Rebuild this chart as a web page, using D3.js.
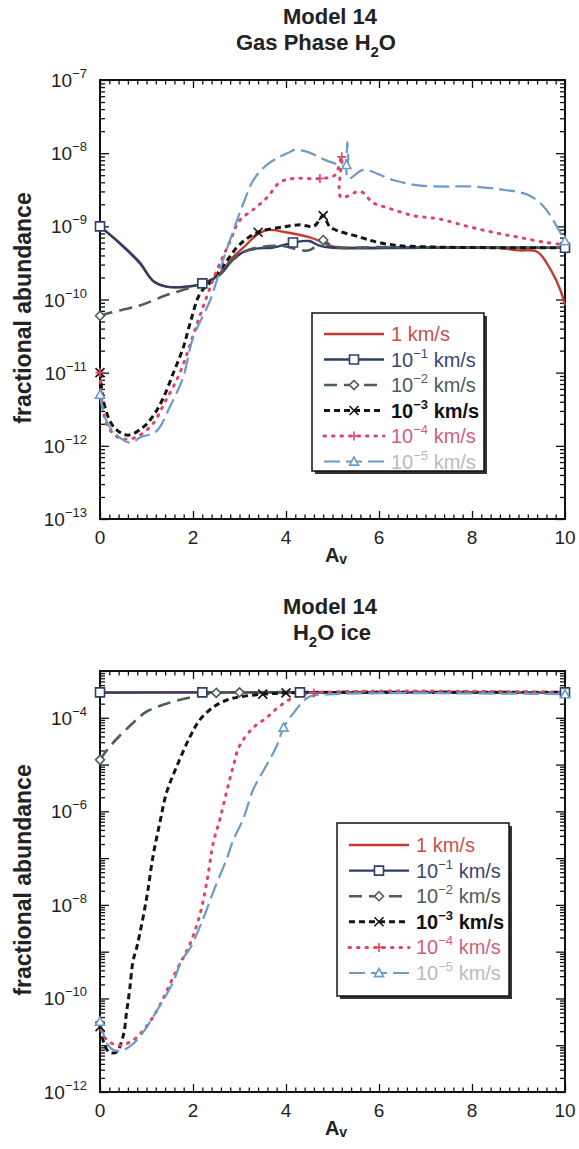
<!DOCTYPE html>
<html><head><meta charset="utf-8">
<script src="https://cdn.jsdelivr.net/npm/d3@7/dist/d3.min.js"></script>
<style>body{margin:0;background:#fff}svg{display:block}</style>
</head><body>
<svg id="c" width="579" height="1149"></svg>
<script>
// ---------- data ----------
const seriesLabels = ["1", "-1", "-2", "-3", "-4", "-5"]; // velocity exponents (km/s)
const xTicks = [0, 2, 4, 6, 8, 10];
const gasYTicks = [-7, -8, -9, -10, -11, -12, -13];
const iceYTicks = [-4, -6, -8, -10, -12];

// Gas phase H2O  [Av, abundance]
const gas_v1 = [[0,1.0e-9],[0.43,5.9e-10],[0.86,3.2e-10],[1.14,1.8e-10],[1.43,1.5e-10],[1.87,1.5e-10],[2.3,1.66e-10],[2.58,2.3e-10],[2.86,3.8e-10],[3.08,5.1e-10],[3.37,7.6e-10],[3.59,8.9e-10],[4.0,8.3e-10],[4.5,7.1e-10],[4.8,6.0e-10],[5.0,5.3e-10],[6,5.1e-10],[7,5.1e-10],[8.5,5.1e-10],[9.0,4.7e-10],[9.4,4.5e-10],[9.7,2.5e-10],[9.9,1.35e-10],[10,8.3e-11]];
const gas_v01 = [[0,1.0e-9],[0.43,5.8e-10],[0.86,3.1e-10],[1.14,1.8e-10],[1.43,1.5e-10],[1.87,1.5e-10],[2.2,1.66e-10],[2.58,2.2e-10],[2.86,3.5e-10],[3.1,4.5e-10],[3.4,5.0e-10],[3.7,5.1e-10],[4.15,6.0e-10],[4.5,6.3e-10],[4.7,5.5e-10],[5.0,5.1e-10],[7,5.1e-10],[10,5.1e-10]];
const gas_v001 = [[0,6.0e-11],[0.22,6.6e-11],[0.86,8.3e-11],[1.43,1.15e-10],[1.87,1.4e-10],[2.2,1.66e-10],[2.58,2.2e-10],[2.86,3.5e-10],[3.2,4.8e-10],[3.87,5.4e-10],[4.5,4.7e-10],[4.8,6.5e-10],[5.0,5.3e-10],[6,5.2e-10],[10,5.1e-10]];
const gas_v0001 = [[0,1.0e-11],[0.1,3.5e-12],[0.3,1.8e-12],[0.6,1.4e-12],[0.93,1.8e-12],[1.15,2.6e-12],[1.36,4.5e-12],[1.58,1.0e-11],[1.79,2.2e-11],[1.94,4.8e-11],[2.15,1.2e-10],[2.4,1.8e-10],[2.7,3.2e-10],[3.0,5.6e-10],[3.4,8.3e-10],[3.94,9.8e-10],[4.3,1.05e-9],[4.6,1.0e-9],[4.8,1.4e-9],[4.95,9.8e-10],[5.6,7.1e-10],[6.0,6.0e-10],[6.5,5.4e-10],[10,5.1e-10]];
const gas_v00001 = [[0,1.0e-11],[0.14,2.0e-12],[0.4,1.3e-12],[0.7,1.26e-12],[1.11,1.9e-12],[1.4,4.0e-12],[1.72,1.0e-11],[2.1,4.9e-11],[2.5,2.4e-10],[2.8,6.3e-10],[3.0,1.2e-9],[3.3,1.7e-9],[3.6,2.5e-9],[3.87,4.0e-9],[4.16,4.5e-9],[4.73,4.5e-9],[5.05,5.0e-9],[5.2,8.9e-9],[5.18,2.5e-9],[5.6,3.0e-9],[5.87,2.1e-9],[6.17,1.8e-9],[6.74,1.4e-9],[7.3,1.26e-9],[7.9,1.0e-9],[8.45,8.3e-10],[9.0,7.1e-10],[9.6,6.0e-10],[10,5.6e-10]];
const gas_v000001 = [[0,5.0e-12],[0.1,2.5e-12],[0.29,1.55e-12],[0.65,1.1e-12],[0.86,1.3e-12],[1.22,1.6e-12],[1.5,3.4e-12],[1.79,8.7e-12],[2.0,3.0e-11],[2.37,9.8e-11],[2.65,3.5e-10],[2.9,1.0e-9],[3.1,2.2e-9],[3.3,4.3e-9],[3.55,6.6e-9],[3.8,8.5e-9],[4.1,1.05e-8],[4.16,1.1e-8],[4.44,1.05e-8],[4.95,7.6e-9],[5.3,6.9e-9],[5.32,1.4e-8],[5.34,4.5e-9],[5.66,5.9e-9],[6.3,4.3e-9],[6.88,3.6e-9],[7.46,3.5e-9],[8.0,3.5e-9],[8.6,3.2e-9],[9.2,2.7e-9],[9.53,1.9e-9],[9.75,1.2e-9],[10,6.3e-10]];

// H2O ice  [Av, abundance]
const ice_v1 = [[0,3.4e-4],[2,3.5e-4],[5,3.5e-4],[10,3.5e-4]];
const ice_v01 = [[0,3.5e-4],[2.2,3.5e-4],[4.3,3.5e-4],[10,3.5e-4]];
const ice_v001 = [[0,1.26e-5],[0.22,2.5e-5],[0.72,7.9e-5],[1.0,1.35e-4],[1.43,2.0e-4],[2.0,2.8e-4],[2.5,3.4e-4],[3.0,3.5e-4],[10,3.5e-4]];
const ice_v0001 = [[0,2.5e-11],[0.1,1.0e-11],[0.2,7.1e-12],[0.35,7.1e-12],[0.5,1.6e-11],[0.57,5.0e-11],[0.64,1.6e-10],[0.71,6.3e-10],[0.8,1.35e-9],[1.0,1.35e-8],[1.14,1.1e-7],[1.29,5.9e-7],[1.43,2.5e-6],[1.65,9.1e-6],[1.94,4.0e-5],[2.15,9.1e-5],[2.44,1.7e-4],[2.73,2.4e-4],[3.0,2.8e-4],[3.5,3.2e-4],[4.0,3.4e-4],[10,3.5e-4]];
const ice_v00001 = [[0,3.2e-11],[0.07,1.6e-11],[0.36,1.0e-11],[0.7,1.26e-11],[1.14,4.0e-11],[1.64,3.9e-10],[1.94,1.5e-9],[2.15,6.3e-9],[2.3,3.2e-8],[2.44,2.2e-7],[2.58,6.9e-7],[2.73,2.8e-6],[2.87,9.5e-6],[3.0,2.5e-5],[3.3,6.2e-5],[3.58,1.0e-4],[3.87,1.8e-4],[4.2,2.8e-4],[4.6,3.4e-4],[10,3.5e-4]];
const ice_v000001 = [[0,3.2e-11],[0.15,1.1e-11],[0.29,7.9e-12],[0.5,7.9e-12],[0.71,1.07e-11],[0.93,1.9e-11],[1.21,5.2e-11],[1.57,2.2e-10],[1.75,6.3e-10],[1.94,1.2e-9],[2.22,5.1e-9],[2.44,1.95e-8],[2.73,1.0e-7],[2.87,2.5e-7],[3.08,6.9e-7],[3.3,3.0e-6],[3.59,1.0e-5],[3.8,2.5e-5],[3.95,6.2e-5],[4.16,1.26e-4],[4.5,2.8e-4],[5.0,3.2e-4],[10,3.2e-4]];

// marker positions (Av) per series
const gasMarkers = [[], [0,2.2,4.15,10], [0,4.8], [0,3.4,4.8], [0,4.73,5.2], [0,5.3,10]];
const iceMarkers = [[], [0,2.2,4.3,10], [0,2.5,4.8], [0,3.5,4.8], [0,4.6], [0,3.95,10]];

// ---------- styles ----------
const styles = [
  {color:"#c43a31", dash:null, w:2.4, marker:null, text:"#c8504a"},
  {color:"#2f3d6a", dash:null, w:2.4, marker:"square", text:"#3a4870"},
  {color:"#4b5f55", dash:"13,7", w:2.6, marker:"diamond", text:"#4d5c55"},
  {color:"#151515", dash:"6,4", w:3.0, marker:"x", text:"#111"},
  {color:"#e04462", dash:"1.5,7", w:3.0, marker:"plus", text:"#d0607a", cap:"round"},
  {color:"#6a9bc9", dash:"16,6", w:2.2, marker:"triangle", text:"#b4bcc4"}
];

const svg = d3.select("#c");
const FONT = "Liberation Sans, Arial, sans-serif";

function markerPath(type, s) {
  switch (type) {
    case "square": return `M${-s},${-s}H${s}V${s}H${-s}Z`;
    case "diamond": return `M0,${-s}L${s},0L0,${s}L${-s},0Z`;
    case "x": return `M${-s},${-s}L${s},${s}M${-s},${s}L${s},${-s}`;
    case "plus": return `M${-s},0H${s}M0,${-s}V${s}`;
    case "triangle": return `M0,${-s}L${s},${s*0.8}L${-s},${s*0.8}Z`;
  }
  return "";
}

function drawPanel(cfg) {
  const {left, right, top, bottom, yMin, yMax, yTicks, data, markers, title1, title2, legend, yTitleY} = cfg;
  const x = d3.scaleLinear().domain([0,10]).range([left,right]);
  const y = d3.scaleLog().domain([Math.pow(10,yMin), Math.pow(10,yMax)]).range([bottom, top]);
  const g = svg.append("g");

  // titles
  const t = g.append("g").attr("font-family", FONT).attr("font-weight","bold").attr("font-size",22).attr("text-anchor","middle").attr("fill","#222");
  t.append("text").attr("x", title1.x).attr("y", title1.y).text("Model 14");
  const t2 = t.append("text").attr("x", title2.x).attr("y", title2.y);
  title2.parts.forEach(p => {
    const ts = t2.append("tspan").text(p.t);
    if (p.sub) ts.attr("font-size", 15).attr("dy", 7);
    if (p.back) ts.attr("dy", -7);
  });

  // minor/major ticks
  const majorX = d3.range(0, 10.001, 2);
  const minorX = d3.range(0, 10.001, 0.2).filter(v => Math.abs(v/2 - Math.round(v/2)) > 1e-6);
  const majorY = d3.range(yMin, yMax+1).map(e => Math.pow(10,e));
  const minorY = [];
  for (let e = yMin; e < yMax; e++) for (let m = 2; m <= 9; m++) minorY.push(m*Math.pow(10,e));

  const axG = g.append("g").attr("stroke","#111");
  function ax(gen, tr) {
    const a = axG.append("g").attr("transform", tr).call(gen);
    a.selectAll("text").remove();
    a.select(".domain").remove();
    a.selectAll("line").attr("stroke","#111").attr("stroke-width",1.3);
  }
  ax(d3.axisBottom(x).tickValues(majorX).tickSize(-8), `translate(0,${bottom})`);
  ax(d3.axisBottom(x).tickValues(minorX).tickSize(-4.5), `translate(0,${bottom})`);
  ax(d3.axisTop(x).tickValues(majorX).tickSize(-8), `translate(0,${top})`);
  ax(d3.axisTop(x).tickValues(minorX).tickSize(-4.5), `translate(0,${top})`);
  ax(d3.axisLeft(y).tickValues(majorY).tickSize(-9), `translate(${left},0)`);
  ax(d3.axisLeft(y).tickValues(minorY).tickSize(-5), `translate(${left},0)`);
  ax(d3.axisRight(y).tickValues(majorY).tickSize(-9), `translate(${right},0)`);
  ax(d3.axisRight(y).tickValues(minorY).tickSize(-5), `translate(${right},0)`);

  // frame
  g.append("rect").attr("x",left).attr("y",top).attr("width",right-left).attr("height",bottom-top)
    .attr("fill","none").attr("stroke","#111").attr("stroke-width",2);

  // tick labels
  const lab = g.append("g").attr("font-family", FONT).attr("font-size",19).attr("fill","#222");
  xTicks.forEach(v => {
    lab.append("text").attr("x", x(v)).attr("y", bottom+25).attr("text-anchor","middle").text(v);
  });
  yTicks.forEach(e => {
    const tx = lab.append("text").attr("x", left-13).attr("y", y(Math.pow(10,e))+7).attr("text-anchor","end");
    tx.append("tspan").text("10");
    tx.append("tspan").attr("font-size",13).attr("dy",-9).text(String(e).replace("-","\u2212"));
  });

  // axis titles
  const xt = g.append("text").attr("x", 336).attr("y", bottom+43).attr("font-family",FONT).attr("font-weight","bold").attr("font-size",20).attr("text-anchor","middle").attr("fill","#222");
  xt.append("tspan").text("A");
  xt.append("tspan").attr("font-size",14).attr("dy",2).text("v");
  g.append("text").attr("transform", `translate(31,${yTitleY}) rotate(-90)`)
    .attr("font-family",FONT).attr("font-weight","bold").attr("font-size",23).attr("text-anchor","middle").attr("fill","#222")
    .text("fractional abundance");

  // curves
  const line = d3.line().x(d => x(d[0])).y(d => y(d[1])).curve(d3.curveCatmullRom.alpha(0.5));
  const cg = g.append("g");
  data.forEach((ser, i) => {
    const st = styles[i];
    cg.append("path").attr("d", line(ser)).attr("fill","none").attr("stroke", st.color)
      .attr("stroke-width", st.w).attr("stroke-dasharray", st.dash).attr("stroke-linecap", st.cap || "butt")
      .attr("stroke-linejoin","round");
  });
  data.forEach((ser, i) => {
    const st = styles[i];
    if (!st.marker) return;
    markers[i].forEach(av => {
      let best = ser[0];
      ser.forEach(p => { if (Math.abs(p[0]-av) < Math.abs(best[0]-av)) best = p; });
      cg.append("path").attr("transform", `translate(${x(best[0])},${y(best[1])})`)
        .attr("d", markerPath(st.marker, 4.5)).attr("fill", st.marker==="x"||st.marker==="plus" ? "none" : "#fff")
        .attr("stroke", st.color).attr("stroke-width", 1.6);
    });
  });

  // legend
  const L = legend;
  const lg = g.append("g");
  lg.append("rect").attr("x", L.x+3).attr("y", L.y+3).attr("width", L.w).attr("height", L.h).attr("fill","#333");
  lg.append("rect").attr("x", L.x).attr("y", L.y).attr("width", L.w).attr("height", L.h).attr("fill","#fff").attr("stroke","#111").attr("stroke-width",1.5);
  seriesLabels.forEach((e, i) => {
    const st = styles[i];
    const ry = L.y + L.first + i*L.step;
    const x0 = L.x + 12, x1 = L.x + 72;
    lg.append("line").attr("x1", x0).attr("x2", x1).attr("y1", ry).attr("y2", ry)
      .attr("stroke", st.color).attr("stroke-width", st.w).attr("stroke-dasharray", st.dash).attr("stroke-linecap", st.cap || "butt");
    if (st.marker) {
      lg.append("path").attr("transform", `translate(${(x0+x1)/2},${ry})`).attr("d", markerPath(st.marker, 4.5))
        .attr("fill", st.marker==="x"||st.marker==="plus" ? "none" : "#fff").attr("stroke", st.color).attr("stroke-width",1.6);
    }
    const tx = lg.append("text").attr("x", L.x + 79).attr("y", ry+7).attr("font-family",FONT).attr("font-size",20)
      .attr("fill", st.text).attr("font-weight", i===3 ? "bold" : "normal");
    if (e === "1") tx.text("1 km/s");
    else {
      tx.append("tspan").text("10");
      tx.append("tspan").attr("font-size",13).attr("dy",-9).text(e.replace("-","\u2212"));
      tx.append("tspan").attr("dy",9).text(" km/s");
    }
  });
}

drawPanel({
  left:100, right:565, top:80, bottom:519, yMin:-13, yMax:-7, yTicks:gasYTicks,
  data:[gas_v1, gas_v01, gas_v001, gas_v0001, gas_v00001, gas_v000001], markers:gasMarkers,
  title1:{x:330,y:24}, title2:{x:316,y:50, parts:[{t:"Gas Phase H"},{t:"2",sub:true},{t:"O",back:true}]},
  legend:{x:312,y:313,w:172,h:158, first:21, step:25.5}, yTitleY:308
});
drawPanel({
  left:100, right:565, top:671, bottom:1092, yMin:-12, yMax:-3, yTicks:iceYTicks,
  data:[ice_v1, ice_v01, ice_v001, ice_v0001, ice_v00001, ice_v000001], markers:iceMarkers,
  title1:{x:330,y:614}, title2:{x:332,y:640, parts:[{t:"H"},{t:"2",sub:true},{t:"O ice",back:true}]},
  legend:{x:337,y:823,w:172,h:173, first:22, step:25.6}, yTitleY:880
});
</script>
</body></html>
